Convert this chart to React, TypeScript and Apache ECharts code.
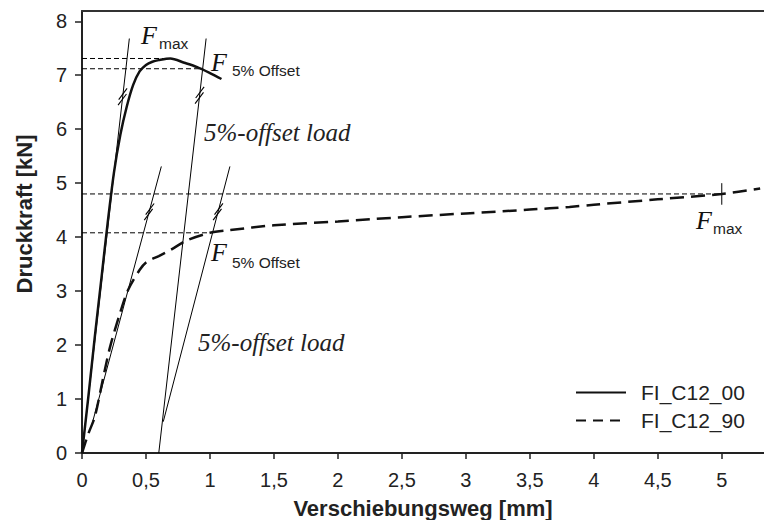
import React, { useEffect, useRef } from "react";
import * as echarts from "echarts";

// ---- data (x: Verschiebungsweg [mm], y: Druckkraft [kN]) ----
const curveC12_00: [number, number][] = [
  [0, 0], [0.05, 1.05], [0.1, 2.15], [0.15, 3.2], [0.2, 4.25], [0.25, 5.2],
  [0.3, 5.9], [0.35, 6.42], [0.4, 6.82], [0.45, 7.07], [0.5, 7.19], [0.55, 7.25],
  [0.6, 7.28], [0.69, 7.31], [0.8, 7.23], [0.9, 7.15], [1.0, 7.04], [1.09, 6.93],
];
const curveC12_90: [number, number][] = [
  [0, 0], [0.05, 0.36], [0.1, 0.67], [0.167, 1.41], [0.22, 1.97], [0.297, 2.59],
  [0.36, 3.02], [0.45, 3.39], [0.505, 3.54], [0.6, 3.65], [0.69, 3.76], [0.82, 3.94],
  [1.0, 4.08], [1.16, 4.13], [1.5, 4.22], [2.0, 4.29], [2.25, 4.33], [2.5, 4.37],
  [3.0, 4.44], [3.5, 4.51], [3.81, 4.56], [4.0, 4.6], [4.5, 4.7], [5.0, 4.8], [5.3, 4.9],
];

// construction lines
const tangent00: [number, number][] = [[0, 0], [0.37, 7.68]];
const offset00: [number, number][] = [[0.6, 0], [0.97, 7.68]];
const tangent90: [number, number][] = [[0.08, 0.55], [0.62, 5.31]];
const offset90: [number, number][] = [[0.635, 0.58], [1.156, 5.31]];
const fmaxLine00: [number, number][] = [[0, 7.31], [0.69, 7.31]];
const f5Line00: [number, number][] = [[0, 7.12], [0.94, 7.12]];
const fmaxLine90: [number, number][] = [[0, 4.8], [5.0, 4.8]];
const f5Line90: [number, number][] = [[0, 4.08], [1.0, 4.08]];
const fmaxTick90: [number, number][] = [[5.0, 4.6], [5.0, 5.0]];
// hash marks: [x, y, slope of the line in kN/mm]
const hashMarks: [number, number, number][] = [
  [0.317, 6.6, 20.8], [0.919, 6.63, 20.8], [0.525, 4.47, 8.81], [1.063, 4.47, 9.08],
];

const xTicks = [0, 0.5, 1, 1.5, 2, 2.5, 3, 3.5, 4, 4.5, 5];
const yTicks = [0, 1, 2, 3, 4, 5, 6, 7, 8];
const xMax = 5.33;
const yMax = 8.19;

const SANS = "'Liberation Sans', Arial, sans-serif";
const SERIF = "'Liberation Serif', 'Times New Roman', serif";
const INK = "#111";
const TXT = "#222";

function thinLine(data: [number, number][], dashed = false) {
  return {
    type: "line",
    data,
    symbol: "none",
    silent: true,
    lineStyle: { color: "#000", width: 1, type: dashed ? [5, 3] : "solid" },
    z: 1,
  };
}

function buildOption(): any {
  const fText = (x: number, y: number) => ({
    type: "text", x, y,
    style: { text: "F", font: `italic 26px ${SERIF}`, fill: INK, align: "left", verticalAlign: "middle" },
  });
  const subText = (x: number, y: number, t: string) => ({
    type: "text", x, y,
    style: { text: t, font: `15.5px ${SANS}`, fill: TXT, align: "left", verticalAlign: "middle" },
  });
  const loadText = (x: number, y: number) => ({
    type: "text", x, y,
    style: { text: "5%-offset load", font: `italic 25px ${SERIF}`, fill: TXT, align: "left", verticalAlign: "middle" },
  });
  return {
    animation: false,
    grid: { left: 82, right: 0, top: 11, bottom: 67, containLabel: false, outerBoundsMode: "none" },
    legend: {
      data: [
        { name: "FI_C12_00", lineStyle: { width: 2 } },
        { name: "FI_C12_90", lineStyle: { width: 2, type: [10, 7] } },
      ],
      orient: "vertical",
      left: 575,
      top: 382,
      padding: 0,
      itemWidth: 50,
      itemHeight: 14,
      itemGap: 7,
      itemStyle: { opacity: 0 },
      textStyle: { fontFamily: SANS, fontSize: 21, color: TXT, padding: [0, 0, 0, 10] },
    },
    xAxis: [
      {
        type: "value",
        min: 0,
        max: xMax,
        name: "Verschiebungsweg [mm]",
        nameLocation: "middle",
        nameGap: 44,
        nameTextStyle: { fontFamily: SANS, fontSize: 22, fontWeight: "bold", color: TXT },
        axisLine: { show: true, lineStyle: { color: "#222", width: 2 } },
        axisTick: { show: true, inside: false, length: 6, customValues: xTicks, lineStyle: { color: "#222", width: 1.5 } },
        axisLabel: {
          customValues: xTicks,
          fontFamily: SANS,
          fontSize: 20,
          color: TXT,
          margin: 17,
          formatter: (v: number) => String(v).replace(".", ","),
        },
        splitLine: { show: false },
      },
      {
        type: "value",
        position: "top",
        min: 0,
        max: xMax,
        axisLine: { show: true, lineStyle: { color: "#333", width: 2 } },
        axisTick: { show: false },
        axisLabel: { show: false },
        splitLine: { show: false },
      },
    ],
    yAxis: {
      type: "value",
      min: 0,
      max: yMax,
      axisLine: { show: true, lineStyle: { color: "#222", width: 2 } },
      axisTick: { show: true, inside: false, length: 7, customValues: yTicks, lineStyle: { color: "#222", width: 1.5 } },
      axisLabel: { customValues: yTicks, fontFamily: SANS, fontSize: 20, color: TXT, margin: 15 },
      splitLine: { show: false },
    },
    graphic: [
      {
        type: "text",
        x: 24,
        y: 214,
        rotation: Math.PI / 2,
        style: {
          text: "Druckkraft [kN]",
          font: `bold 22px ${SANS}`,
          fill: TXT,
          align: "center",
          verticalAlign: "middle",
        },
      },
      fText(141, 35), subText(159, 43, "max"),
      fText(211, 62), subText(232, 70, "5% Offset"),
      loadText(204, 132),
      fText(211, 252), subText(232, 262, "5% Offset"),
      loadText(198, 342),
      fText(696, 220), subText(713, 228, "max"),
    ],
    series: [
      {
        name: "FI_C12_00",
        type: "line",
        data: curveC12_00,
        symbol: "none",
        smooth: 0.3,
        lineStyle: { color: INK, width: 2.5, type: "solid" },
        itemStyle: { color: INK },
        z: 3,
      },
      {
        name: "FI_C12_90",
        type: "line",
        data: curveC12_90,
        symbol: "none",
        smooth: 0.3,
        lineStyle: { color: INK, width: 2.5, type: [14, 7] },
        itemStyle: { color: INK },
        z: 3,
      },
      thinLine(tangent00),
      thinLine(offset00),
      thinLine(tangent90),
      thinLine(offset90),
      thinLine(fmaxLine00, true),
      thinLine(f5Line00, true),
      thinLine(fmaxLine90, true),
      thinLine(f5Line90, true),
      thinLine(fmaxTick90),
      {
        type: "custom",
        silent: true,
        data: hashMarks,
        z: 4,
        renderItem: (_params: any, api: any) => {
          const x = api.value(0);
          const y = api.value(1);
          const s = api.value(2);
          const p = api.coord([x, y]);
          const q = api.coord([x + 0.1, y + 0.1 * s]);
          let ux = q[0] - p[0];
          let uy = q[1] - p[1];
          const len = Math.hypot(ux, uy) || 1;
          ux /= len; uy /= len;
          const dx = 0.6, dy = -0.8, h = 7;
          const children = [-2.8, 2.8].map((o) => {
            const cx = p[0] + ux * o;
            const cy = p[1] + uy * o;
            return {
              type: "line",
              shape: { x1: cx - dx * h, y1: cy - dy * h, x2: cx + dx * h, y2: cy + dy * h },
              style: { stroke: "#000", lineWidth: 1.1 },
            };
          });
          return { type: "group", children };
        },
      },
    ],
  };
}

export default function App() {
  const ref = useRef<HTMLDivElement>(null);
  useEffect(() => {
    document.body.style.margin = "0";
    const chart = echarts.init(ref.current!, null, { renderer: "svg" });
    chart.setOption(buildOption());
    return () => chart.dispose();
  }, []);
  return <div ref={ref} style={{ width: 764, height: 520 }} />;
}
